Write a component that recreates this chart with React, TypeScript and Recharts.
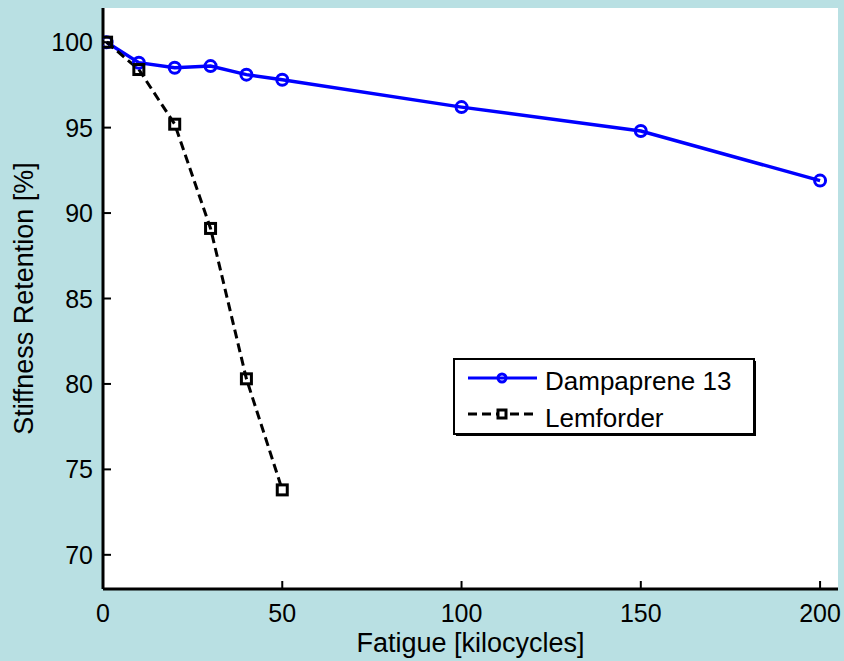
import { LineChart, Line, XAxis, YAxis, Legend } from 'recharts';

const dampKc = [1, 10, 20, 30, 40, 50, 100, 150, 200];
const dampRetention = [100, 98.8, 98.5, 98.6, 98.1, 97.8, 96.2, 94.8, 91.9];
const lemKc = [1, 10, 20, 30, 40, 50];
const lemRetention = [100, 98.4, 95.2, 89.1, 80.3, 73.8];
const xTicks = [0, 50, 100, 150, 200];
const yTicks = [70, 75, 80, 85, 90, 95, 100];

const dampData = dampKc.map((x, i) => ({ x, y: dampRetention[i] }));
const lemData = lemKc.map((x, i) => ({ x, y: lemRetention[i] }));

const FONT = '"Liberation Sans", Arial, Helvetica, sans-serif';
const TICK_FS = 25;
const LABEL_FS = 27;
const TICK = 8;
const BG = '#b9e0e3';

// plot box
const PL = 103;
const PT = 8;
const PW = 735;
const PH = 581;

const X_DOMAIN = [0, 205];
const Y_DOMAIN = [68, 102];

const tickLineStyle = { stroke: '#000', strokeWidth: 2 };

const BottomTick = (p: any) => (
  <text x={p.x} y={PT + PH + 33} textAnchor="middle" fontSize={TICK_FS} fontFamily={FONT} fill="#000">
    {p.payload.value}
  </text>
);

const LeftTick = (p: any) => (
  <text x={PL - 10} y={p.y + 9} textAnchor="end" fontSize={TICK_FS} fontFamily={FONT} fill="#000">
    {p.payload.value}
  </text>
);

const EmptyTick = () => <g />;

const SquareDot = (p: any) => (
  <rect
    key={`sq-${p.index}`}
    x={p.cx - 5}
    y={p.cy - 5}
    width={10}
    height={10}
    fill="none"
    stroke="#000"
    strokeWidth={3}
  />
);

const LegendBox = () => (
  <svg width={306} height={81} style={{ display: 'block' }}>
    <rect x={3} y={3} width={300} height={75} fill="#000" />
    <rect x={1} y={1} width={300} height={75} fill="#fff" stroke="#000" strokeWidth={2} />
    <line x1={15} y1={20} x2={84} y2={20} stroke="#0000ff" strokeWidth={3} />
    <circle cx={49} cy={20} r={4} fill="none" stroke="#0000ff" strokeWidth={3} />
    <line x1={15} y1={56} x2={84} y2={56} stroke="#000" strokeWidth={3} strokeDasharray="9 5" />
    <rect x={45} y={52} width={8} height={8} fill="#fff" stroke="#000" strokeWidth={3} />
    <text x={92} y={32} fontSize={LABEL_FS - 1} fontFamily={FONT} fill="#000">Dampaprene 13</text>
    <text x={92} y={69} fontSize={LABEL_FS - 1} fontFamily={FONT} fill="#000">Lemforder</text>
  </svg>
);

export default function App() {
  return (
    <div style={{ position: 'absolute', left: 0, top: 0, width: 844, height: 661, background: BG }}>
      <div style={{ position: 'absolute', left: PL, top: PT, width: PW, height: PH, background: '#fff' }} />
      <div style={{ position: 'absolute', left: 0, top: 0 }}>
        <LineChart width={844} height={661} margin={{ top: PT, right: 844 - PL - PW, bottom: 0, left: 0 }}>
          <XAxis
            dataKey="x"
            type="number"
            domain={X_DOMAIN}
            ticks={xTicks}
            height={661 - PT - PH}
            tickSize={-TICK}
            tickMargin={TICK}
            tickLine={tickLineStyle}
            tick={<BottomTick />}
            axisLine={{ stroke: '#000', strokeWidth: 3 }}
            allowDataOverflow
            label={({ viewBox }: any) => (
              <text
                x={viewBox.x + viewBox.width / 2}
                y={652}
                textAnchor="middle"
                fontSize={LABEL_FS}
                fontFamily={FONT}
                fill="#000"
              >
                Fatigue [kilocycles]
              </text>
            )}
          />
          <XAxis
            xAxisId="top"
            orientation="top"
            dataKey="x"
            type="number"
            domain={X_DOMAIN}
            ticks={xTicks}
            height={0}
            tickSize={-TICK}
            tickMargin={0}
            tickLine={tickLineStyle}
            tick={<EmptyTick />}
            axisLine={{ stroke: '#000', strokeWidth: 3 }}
            allowDataOverflow
          />
          <YAxis
            type="number"
            domain={Y_DOMAIN}
            ticks={yTicks}
            width={PL}
            tickSize={-TICK}
            tickMargin={TICK}
            tickLine={tickLineStyle}
            tick={<LeftTick />}
            axisLine={{ stroke: '#000', strokeWidth: 3 }}
            allowDataOverflow
            label={({ viewBox }: any) => {
              const cy = viewBox.y + viewBox.height / 2;
              return (
                <text
                  x={33}
                  y={cy}
                  transform={`rotate(-90, 33, ${cy})`}
                  textAnchor="middle"
                  fontSize={LABEL_FS}
                  fontFamily={FONT}
                  fill="#000"
                >
                  Stiffness Retention [%]
                </text>
              );
            }}
          />
          <YAxis
            yAxisId="right"
            orientation="right"
            type="number"
            domain={Y_DOMAIN}
            ticks={yTicks}
            width={0}
            tickSize={-TICK}
            tickMargin={0}
            tickLine={tickLineStyle}
            tick={<EmptyTick />}
            axisLine={{ stroke: '#000', strokeWidth: 3 }}
            allowDataOverflow
          />
          <Legend
            content={<LegendBox />}
            layout="horizontal"
            verticalAlign="middle"
            align="center"
            wrapperStyle={{ position: 'absolute', left: 453, top: 358, width: 306 }}
          />
          <Line
            data={dampData}
            dataKey="y"
            name="Dampaprene 13"
            stroke="#0000ff"
            strokeWidth={3.5}
            dot={{ r: 5.5, fill: 'none', stroke: '#0000ff', strokeWidth: 3 }}
            isAnimationActive={false}
          />
          <Line
            data={lemData}
            xAxisId="top"
            yAxisId="right"
            dataKey="y"
            name="Lemforder"
            stroke="#000"
            strokeWidth={3}
            strokeDasharray="9 5"
            dot={<SquareDot />}
            isAnimationActive={false}
          />
        </LineChart>
      </div>
    </div>
  );
}
